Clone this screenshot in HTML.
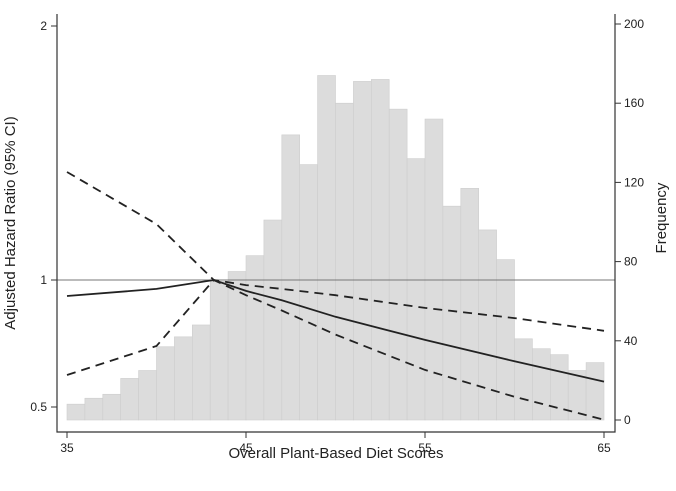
<!DOCTYPE html>
<html><head><meta charset="utf-8"><style>
body{margin:0;background:#fff}
svg text{font-family:"Liberation Sans",sans-serif;fill:#222}
</style></head><body>
<svg width="676" height="486" id="c">
<g id="bars"></g>
<g id="lines"></g>
<g id="axes"></g>
<text x="15" y="223" font-size="15" text-anchor="middle" transform="rotate(-90 15 223)">Adjusted Hazard Ratio (95% CI)</text>
<text x="666" y="218" font-size="15" text-anchor="middle" transform="rotate(-90 666 218)">Frequency</text>
<text x="336" y="458" font-size="15" text-anchor="middle">Overall Plant-Based Diet Scores</text>
</svg>
<script>
const freq=[8,11,13,21,25,37,42,48,70,75,83,101,144,129,174,160,171,172,157,132,152,108,117,96,81,41,36,33,25,29];
const binStart=35;
const curveX=[35,40,43.2,45,47,50,55,60,65];
const hrEst=[0.937,0.965,1,0.957,0.92,0.855,0.764,0.68,0.60];
const hrUpper=[1.425,1.22,1,0.98,0.965,0.94,0.89,0.85,0.80];
const hrLower=[0.626,0.74,1,0.94,0.88,0.785,0.646,0.54,0.45];
const xTicks=[35,45,55,65];
const hrTicks=[0.5,1,2];
const fTicks=[0,40,80,120,160,200];
const NS='http://www.w3.org/2000/svg';
const X=v=>67+(v-35)*17.9;
const YH=v=>280-(v-1)*254;
const YF=v=>420-v*1.98;
function mk(tag,attrs,parent){const e=document.createElementNS(NS,tag);for(const k in attrs)e.setAttribute(k,attrs[k]);parent.appendChild(e);return e;}
const bars=document.getElementById('bars'),lines=document.getElementById('lines'),axes=document.getElementById('axes');
freq.forEach((f,i)=>{const r=mk('rect',{x:X(binStart+i),y:YF(f),width:X(binStart+i+1)-X(binStart+i),height:YF(0)-YF(f),fill:'#dcdcdc',stroke:'#cdcdcd','stroke-width':0.6},bars);

});
const ref=mk('line',{x1:57,x2:615,y1:YH(1),y2:YH(1),stroke:'#777','stroke-width':1},lines);


function path(vals,dash,name){
 let d='';curveX.forEach((x,i)=>{d+=(i?'L':'M')+X(x).toFixed(1)+','+YH(vals[i]).toFixed(1);});
 const p=mk('path',{d:d,fill:'none',stroke:'#222','stroke-width':1.8,'stroke-dasharray':dash},lines);
 
 }
path(hrEst,'none','hr-estimate-line');
path(hrUpper,'9,6','upper-ci-line');
path(hrLower,'9,6','lower-ci-line');
mk('path',{d:'M57,14V432H615V14',fill:'none',stroke:'#333','stroke-width':1.2},axes);
xTicks.forEach(t=>{mk('line',{x1:X(t),x2:X(t),y1:432,y2:438,stroke:'#333'},axes);
 const tx=mk('text',{x:X(t),y:452,'font-size':12,'text-anchor':'middle'},axes);tx.textContent=t;
 
 });
hrTicks.forEach(t=>{mk('line',{x1:51,x2:57,y1:YH(t),y2:YH(t),stroke:'#333'},axes);
 const tx=mk('text',{x:47,y:YH(t)+4,'font-size':12,'text-anchor':'end'},axes);tx.textContent=t;
 
 });
fTicks.forEach(t=>{mk('line',{x1:615,x2:621,y1:YF(t),y2:YF(t),stroke:'#333'},axes);
 const tx=mk('text',{x:624,y:YF(t)+4,'font-size':12},axes);tx.textContent=t;
 
 });
</script>
</body></html>
